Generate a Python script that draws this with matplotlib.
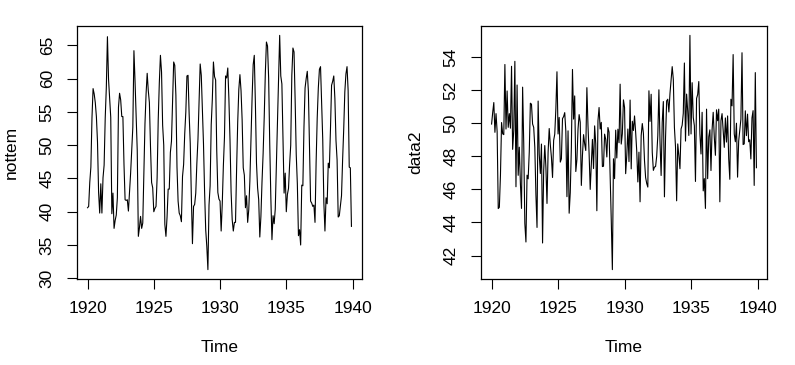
import numpy as np
import matplotlib
matplotlib.use("Agg")
import matplotlib.pyplot as plt

plt.rcParams['font.family'] = ['Liberation Sans', 'DejaVu Sans']

# --- nottem: Nottingham monthly average temperatures, 1920-1939 ---
nottem = [
    40.6, 40.8, 44.4, 46.7, 54.1, 58.5, 57.7, 56.4, 54.3, 50.5, 42.9, 39.8,
    44.2, 39.8, 45.1, 47.0, 54.1, 58.7, 66.3, 59.9, 57.0, 54.2, 39.7, 42.8,
    37.5, 38.7, 39.5, 42.1, 55.7, 57.8, 56.8, 54.3, 54.3, 47.1, 41.8, 41.7,
    41.8, 40.1, 42.9, 45.8, 49.2, 52.7, 64.2, 59.6, 54.4, 49.2, 36.3, 37.6,
    39.3, 37.5, 38.3, 45.5, 53.2, 57.7, 60.8, 58.2, 56.4, 49.8, 44.4, 43.6,
    40.0, 40.5, 40.8, 45.1, 53.8, 59.4, 63.5, 61.0, 53.0, 50.0, 38.1, 36.3,
    39.2, 43.4, 43.4, 48.9, 50.6, 56.8, 62.5, 62.0, 57.5, 46.7, 41.6, 39.8,
    39.4, 38.5, 45.3, 47.1, 51.7, 55.0, 60.4, 60.5, 54.7, 50.3, 42.3, 35.2,
    40.8, 41.1, 42.8, 47.3, 50.9, 56.4, 62.2, 60.5, 55.4, 50.2, 43.0, 37.3,
    34.8, 31.3, 41.0, 43.9, 53.1, 56.9, 62.5, 60.3, 59.8, 49.2, 42.9, 41.9,
    41.6, 37.1, 41.2, 46.9, 51.2, 60.4, 60.1, 61.6, 57.0, 50.9, 43.0, 38.8,
    37.1, 38.4, 38.4, 46.5, 53.5, 58.4, 60.6, 58.2, 53.8, 46.6, 45.5, 40.6,
    42.4, 38.4, 40.3, 44.6, 50.9, 57.0, 62.1, 63.5, 56.3, 47.3, 43.6, 41.8,
    36.2, 39.3, 44.5, 48.7, 54.2, 60.8, 65.5, 64.9, 60.1, 50.2, 42.1, 35.8,
    39.4, 38.2, 40.4, 46.9, 53.4, 59.6, 66.5, 60.4, 59.2, 51.2, 42.8, 45.8,
    40.0, 42.6, 43.5, 47.1, 50.0, 60.5, 64.6, 64.0, 56.8, 48.6, 44.2, 36.4,
    37.3, 35.0, 44.0, 43.9, 52.7, 58.6, 60.0, 61.1, 58.1, 49.6, 41.6, 41.3,
    40.8, 41.0, 38.4, 47.4, 54.1, 58.6, 61.4, 61.8, 56.3, 50.9, 41.4, 37.1,
    42.1, 41.2, 47.3, 46.6, 52.4, 59.0, 59.6, 60.4, 57.0, 50.7, 47.8, 39.2,
    39.4, 40.9, 42.4, 47.8, 52.4, 58.0, 60.7, 61.8, 58.2, 46.7, 46.6, 37.8,
]

# --- data2: seasonally adjusted series ---
data2 = [
    49.95, 50.65, 51.25, 49.45, 50.58, 49.50, 44.84, 44.92, 46.86, 50.04, 49.36, 49.31,
    53.55, 49.65, 51.95, 49.75, 50.58, 49.70, 53.44, 48.42, 49.56, 53.74, 46.16, 52.31,
    46.85, 48.55, 46.35, 44.85, 52.18, 48.80, 43.94, 42.82, 46.86, 46.64, 48.26, 51.21,
    51.15, 49.95, 49.75, 48.55, 45.68, 43.70, 51.34, 48.12, 46.96, 48.74, 42.76, 47.11,
    48.65, 47.35, 45.15, 48.25, 49.68, 48.70, 47.94, 46.72, 48.96, 49.34, 50.86, 53.11,
    49.35, 50.35, 47.65, 47.85, 50.28, 50.40, 50.64, 49.52, 45.56, 49.54, 44.56, 45.81,
    48.55, 53.25, 50.25, 51.65, 47.08, 47.80, 49.64, 50.52, 50.06, 46.24, 48.06, 49.31,
    48.75, 48.35, 52.15, 49.85, 48.18, 46.00, 47.54, 49.02, 47.26, 49.84, 48.76, 44.71,
    50.15, 50.95, 49.65, 50.05, 47.38, 47.40, 49.34, 49.02, 47.96, 49.74, 49.46, 46.81,
    44.15, 41.15, 47.85, 46.65, 49.58, 47.90, 49.64, 48.82, 52.36, 48.74, 49.36, 51.41,
    50.95, 46.95, 48.05, 49.65, 47.68, 51.40, 47.24, 50.12, 49.56, 50.44, 49.46, 48.31,
    46.45, 48.25, 45.25, 49.25, 49.98, 49.40, 47.74, 46.72, 46.36, 46.14, 51.96, 50.11,
    51.75, 48.25, 47.15, 47.35, 47.38, 48.00, 49.24, 52.02, 48.86, 46.84, 50.06, 51.31,
    45.55, 49.15, 51.35, 51.45, 50.68, 51.80, 52.64, 53.42, 52.66, 49.74, 48.56, 45.31,
    48.75, 48.05, 47.25, 49.65, 49.88, 50.60, 53.64, 48.92, 51.76, 50.74, 49.26, 55.31,
    49.35, 52.45, 50.35, 49.85, 46.48, 51.50, 51.74, 52.52, 49.36, 48.14, 50.66, 45.91,
    46.65, 44.85, 50.85, 46.65, 49.18, 49.60, 47.14, 49.62, 50.66, 49.14, 48.06, 50.81,
    50.15, 50.85, 45.25, 50.15, 50.58, 49.60, 48.54, 50.32, 48.86, 50.44, 47.86, 46.61,
    51.45, 51.05, 54.15, 49.35, 48.88, 50.00, 46.74, 48.92, 49.56, 50.24, 54.26, 48.71,
    48.75, 50.75, 49.25, 50.55, 48.88, 49.00, 47.84, 50.32, 50.76, 46.24, 53.06, 47.31,
]

start_year = 1920
months_per_year = 12
x_ticks = [1920, 1925, 1930, 1935, 1940]
y_ticks_left = [30, 35, 40, 45, 50, 55, 60, 65]
y_ticks_right = [42, 44, 46, 48, 50, 52, 54]

time = start_year + np.arange(len(nottem)) / months_per_year

fig = plt.figure(figsize=(7.95, 3.65), dpi=100)
W, H = 795, 365

def panel(left, right, y, ylabel, yticks):
    ax = fig.add_axes([left / W, 1 - 279 / H, (right - left) / W, (279 - 26) / H])
    ax.plot(time, y, color='black', lw=0.8)
    # R-style 4% padding
    xr = time[-1] - time[0]
    ax.set_xlim(time[0] - 0.04 * xr, time[-1] + 0.04 * xr)
    yr = max(y) - min(y)
    ax.set_ylim(min(y) - 0.04 * yr, max(y) + 0.04 * yr)
    ax.set_xticks(x_ticks)
    ax.set_yticks(yticks)
    ax.set_yticklabels([str(t) for t in yticks], rotation=90, va='center')
    ax.tick_params(length=7, width=0.8, labelsize=12.5, pad=9, color='black')
    for s in ax.spines.values():
        s.set_linewidth(0.9)
    ax.set_xlabel("Time", fontsize=12.5, labelpad=17)
    ax.set_ylabel(ylabel, fontsize=12.5, labelpad=15)
    return ax

panel(77, 362, nottem, "nottem", y_ticks_left)
panel(481, 767, data2, "data2", y_ticks_right)

fig.savefig("out.png", dpi=100)
